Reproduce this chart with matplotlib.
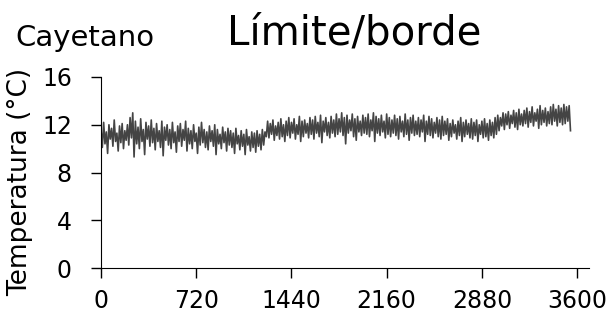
import numpy as np
import matplotlib
matplotlib.use("Agg")
import matplotlib.pyplot as plt

plt.rcParams['font.family'] = ['DejaVu Sans']

title = "Límite/borde"
site = "Cayetano"
ylabel = "Temperatura (°C)"
xticks = [0, 720, 1440, 2160, 2880, 3600]
yticks = [0, 4, 8, 12, 16]
step = 10  # hours between readings

temps = [
    11.6, 10.1, 12.2, 10.4, 11.4, 9.6, 12.0, 10.8, 11.7, 10.2, 12.4, 10.6, 11.3, 9.8, 11.9, 10.5, 12.1, 10.0, 11.5, 10.7,
    12.0, 10.3, 12.6, 10.9, 13.0, 9.3, 12.3, 10.4, 11.8, 10.0, 12.5, 10.6, 11.6, 9.5, 12.2, 10.8, 11.9, 10.2, 12.4, 10.5,
    11.7, 9.9, 12.1, 10.6, 11.5, 10.1, 12.3, 9.4, 11.8, 10.7, 12.0, 10.3, 11.6, 10.0, 12.2, 10.5, 11.4, 9.7, 11.9, 10.6,
    12.1, 10.2, 11.6, 10.7, 12.3, 9.8, 11.7, 10.4, 11.5, 10.0, 12.0, 10.6, 11.3, 9.6, 11.8, 10.3, 12.2, 10.5, 11.6, 10.1,
    11.4, 9.9, 11.9, 10.6, 11.5, 10.2, 12.0, 9.5, 11.6, 10.4, 11.2, 10.0, 11.8, 10.5, 11.4, 9.8, 11.7, 10.3, 11.5, 10.1,
    11.3, 9.6, 11.7, 10.4, 11.1, 9.9, 11.5, 10.2, 11.2, 9.5, 11.6, 10.3, 11.0, 9.8, 11.4, 10.1, 11.3, 9.7, 11.5, 10.2,
    11.2, 9.9, 11.6, 10.3, 11.4, 11.0, 12.3, 10.9, 12.1, 11.2, 12.4, 10.7, 11.9, 11.1, 12.2, 10.8, 12.5, 11.0, 12.0, 10.6,
    12.3, 11.1, 12.6, 10.9, 12.2, 11.3, 12.5, 10.8, 12.0, 11.2, 12.7, 10.6, 12.3, 11.0, 12.4, 11.3, 12.1, 10.9, 12.6, 11.2,
    12.4, 10.8, 12.7, 11.3, 12.2, 11.0, 12.8, 10.5, 12.3, 11.4, 12.6, 11.1, 12.2, 10.9, 12.7, 11.3, 12.4, 11.0, 12.9, 11.2,
    12.5, 11.4, 13.0, 11.1, 12.6, 10.4, 12.8, 11.3, 12.4, 11.5, 12.9, 11.0, 12.5, 10.7, 12.7, 11.4, 12.3, 11.1, 12.8, 11.3,
    12.6, 11.2, 12.9, 11.0, 12.4, 11.5, 13.0, 10.6, 12.7, 11.3, 12.5, 11.1, 12.8, 11.4, 12.3, 10.9, 12.9, 11.2, 12.6, 11.0,
    12.4, 11.3, 12.8, 11.1, 12.5, 10.8, 12.7, 11.4, 12.3, 11.0, 12.9, 11.2, 12.4, 10.7, 12.6, 11.3, 12.8, 11.1, 12.3, 11.2,
    12.6, 11.0, 12.4, 11.4, 12.8, 10.6, 12.3, 11.2, 12.7, 11.1, 12.5, 10.9, 12.2, 11.3, 12.6, 11.0, 12.4, 10.8, 12.7, 11.1,
    12.3, 11.2, 12.5, 10.7, 12.1, 11.0, 12.4, 11.3, 12.0, 10.8, 12.3, 11.1, 12.6, 10.6, 12.2, 11.0, 12.4, 11.2, 12.1, 10.9,
    12.5, 10.8, 12.2, 11.1, 12.4, 10.6, 12.0, 11.2, 12.3, 10.9, 12.5, 11.0, 12.1, 10.7, 12.4, 11.1, 12.2, 10.9, 12.6, 11.2,
    12.8, 11.5, 12.6, 11.9, 13.0, 11.6, 12.9, 12.0, 13.1, 11.7, 12.8, 12.1, 13.2, 11.8, 13.0, 11.6, 13.3, 12.0, 12.9, 11.9,
    13.2, 12.1, 13.4, 11.8, 13.1, 12.2, 13.5, 11.9, 13.0, 12.3, 13.3, 11.7, 13.6, 12.0, 13.2, 12.2, 13.4, 11.9, 13.1, 12.1,
    13.5, 12.0, 13.7, 12.3, 13.3, 11.9, 13.6, 12.2, 13.4, 12.0, 13.7, 12.1, 13.5, 12.3, 13.6, 11.5,
]
hours = np.arange(len(temps)) * step

fig = plt.figure(figsize=(6.11, 3.34), dpi=100)
ax = fig.add_axes([101/611, 66/334, (589-101)/611, (268-77)/334])
ax.plot(hours, temps, color='#444444', linewidth=1.2)

ax.set_xlim(0, 3690)
ax.set_ylim(0, 16)
ax.set_xticks(xticks)
ax.set_yticks(yticks)
for s in ['top', 'right']:
    ax.spines[s].set_visible(False)
ax.spines['left'].set_bounds(0, 16)
ax.tick_params(axis='both', direction='out', length=7, width=1, labelsize=17, colors='black')
ax.tick_params(axis='y', pad=14)
ax.tick_params(axis='x', pad=8)

fig.text(20/611, 1 - 182/334, ylabel, rotation=90, ha='center', va='center', fontsize=19)
fig.text(15/611, 1 - 46/334, site, ha='left', va='baseline', fontsize=21)
fig.text(354/611, 1 - 45/334, title, ha='center', va='baseline', fontsize=29)

fig.savefig("out.png", dpi=100)
